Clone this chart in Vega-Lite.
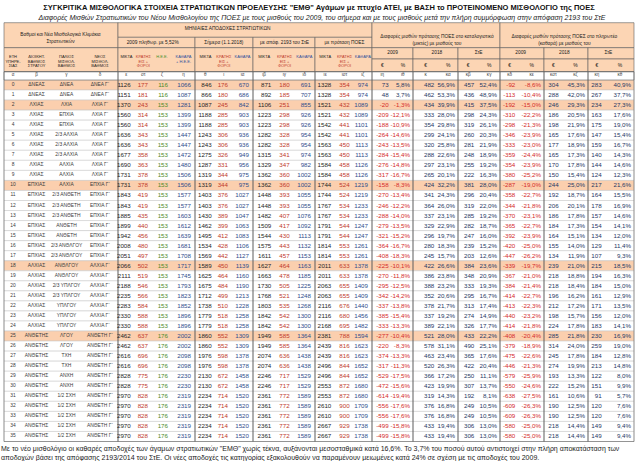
{
"$schema":"https://vega.github.io/schema/vega-lite/v6.json",
"width":630,"height":461,
"autosize":{"type":"none"},
"padding":{"left":4,"right":6,"top":0,"bottom":0},
"background":"white",
"config":{"view":{"stroke":null},"axis":{"disable":true},"legend":{"disable":true},
"locale":{"number":{"decimal":",","thousands":".","grouping":[3],"currency":[""," €"],"minus":"-"}}},
"resolve":{"scale":{"x":"independent","y":"independent","color":"independent","fill":"independent"}},
"datasets":{
"rows":[
{"α":0,"β":"ΔΝΕΑΣ","γ":"ΔΝΕΑ","δ":"ΔΝΕΑ Γ΄","ε":1126,"στ":177,"ζ":116,"η":1066,"θ":846,"ι":176,"ια":670,"ιβ":871,"ιγ":180,"ιδ":691,"ιε":1328,"ιστ":354,"ιζ":974,"ιη":73,"ιθ":0.058,"κ":482,"κα":0.569,"κβ":457,"κγ":0.524,"κδ":-92,"κε":-0.086,"κστ":304,"κζ":0.453,"κη":283,"κθ":0.409},
{"α":1,"β":"ΔΝΕΑΣ","γ":"ΔΝΕΑ","δ":"ΔΝΕΑ Γ΄","ε":1151,"στ":181,"ζ":116,"η":1087,"θ":866,"ι":180,"ια":686,"ιβ":892,"ιγ":185,"ιδ":707,"ιε":1328,"ιστ":354,"ιζ":974,"ιη":48,"ιθ":0.037,"κ":462,"κα":0.533,"κβ":436,"κγ":0.489,"κδ":-113,"κε":-0.104,"κστ":288,"κζ":0.420,"κη":267,"κθ":0.377},
{"α":2,"β":"ΛΧΙΑΣ","γ":"ΛΧΙΑ","δ":"ΛΧΙΑ Γ΄","ε":1370,"στ":243,"ζ":153,"η":1281,"θ":1087,"ι":245,"ια":842,"ιβ":1106,"ιγ":251,"ιδ":855,"ιε":1521,"ιστ":432,"ιζ":1089,"ιη":-20,"ιθ":-0.013,"κ":434,"κα":0.399,"κβ":415,"κγ":0.375,"κδ":-192,"κε":-0.150,"κστ":246,"κζ":0.293,"κη":234,"κθ":0.273},
{"α":3,"β":"ΛΧΙΑΣ","γ":"ΕΠΧΙΑ","δ":"ΛΧΙΑ Γ΄","ε":1560,"στ":314,"ζ":153,"η":1399,"θ":1188,"ι":285,"ια":903,"ιβ":1223,"ιγ":298,"ιδ":926,"ιε":1521,"ιστ":432,"ιζ":1089,"ιη":-209,"ιθ":-0.121,"κ":333,"κα":0.280,"κβ":298,"κγ":0.243,"κδ":-310,"κε":-0.222,"κστ":186,"κζ":0.205,"κη":163,"κθ":0.176},
{"α":4,"β":"ΛΧΙΑΣ","γ":"ΕΠΧΙΑ","δ":"ΛΧΙΑ Γ΄","ε":1560,"στ":314,"ζ":153,"η":1399,"θ":1188,"ι":285,"ια":903,"ιβ":1223,"ιγ":298,"ιδ":926,"ιε":1542,"ιστ":441,"ιζ":1101,"ιη":-188,"ιθ":-0.109,"κ":354,"κα":0.298,"κβ":319,"κγ":0.261,"κδ":-298,"κε":-0.213,"κστ":198,"κζ":0.219,"κη":175,"κθ":0.190},
{"α":5,"β":"ΛΧΙΑΣ","γ":"2/3 ΑΛΧΙΑ","δ":"ΛΧΙΑ Γ΄","ε":1636,"στ":343,"ζ":153,"η":1447,"θ":1243,"ι":306,"ια":936,"ιβ":1282,"ιγ":328,"ιδ":954,"ιε":1542,"ιστ":441,"ιζ":1101,"ιη":-264,"ιθ":-0.146,"κ":299,"κα":0.241,"κβ":260,"κγ":0.203,"κδ":-346,"κε":-0.239,"κστ":165,"κζ":0.176,"κη":147,"κθ":0.154},
{"α":6,"β":"ΛΧΙΑΣ","γ":"2/3 ΑΛΧΙΑ","δ":"ΛΧΙΑ Γ΄","ε":1636,"στ":343,"ζ":153,"η":1447,"θ":1243,"ι":306,"ια":936,"ιβ":1282,"ιγ":328,"ιδ":954,"ιε":1563,"ιστ":450,"ιζ":1113,"ιη":-243,"ιθ":-0.135,"κ":320,"κα":0.258,"κβ":281,"κγ":0.219,"κδ":-333,"κε":-0.230,"κστ":177,"κζ":0.189,"κη":159,"κθ":0.167},
{"α":7,"β":"ΛΧΙΑΣ","γ":"2/3 ΑΛΧΙΑ","δ":"ΛΧΙΑ Γ΄","ε":1677,"στ":358,"ζ":153,"η":1472,"θ":1275,"ι":326,"ια":949,"ιβ":1315,"ιγ":341,"ιδ":974,"ιε":1563,"ιστ":450,"ιζ":1113,"ιη":-284,"ιθ":-0.154,"κ":288,"κα":0.226,"κβ":248,"κγ":0.189,"κδ":-359,"κε":-0.244,"κστ":165,"κζ":0.173,"κη":140,"κθ":0.143},
{"α":8,"β":"ΛΧΙΑΣ","γ":"ΑΛΧΙΑ","δ":"ΛΧΙΑ Γ΄","ε":1690,"στ":363,"ζ":153,"η":1480,"θ":1287,"ι":331,"ια":956,"ιβ":1329,"ιγ":347,"ιδ":982,"ιε":1584,"ιστ":458,"ιζ":1126,"ιη":-276,"ιθ":-0.148,"κ":297,"κα":0.231,"κβ":255,"κγ":0.192,"κδ":-354,"κε":-0.239,"κστ":170,"κζ":0.178,"κη":144,"κθ":0.146},
{"α":9,"β":"ΛΧΙΑΣ","γ":"ΑΛΧΙΑ","δ":"ΛΧΙΑ Γ΄","ε":1731,"στ":378,"ζ":153,"η":1506,"θ":1319,"ι":344,"ια":975,"ιβ":1362,"ιγ":360,"ιδ":1002,"ιε":1584,"ιστ":458,"ιζ":1126,"ιη":-317,"ιθ":-0.167,"κ":265,"κα":0.201,"κβ":222,"κγ":0.163,"κδ":-380,"κε":-0.252,"κστ":150,"κζ":0.154,"κη":124,"κθ":0.123},
{"α":10,"β":"ΕΠΧΙΑΣ","γ":"ΑΛΧΙΑ","δ":"ΕΠΧΙΑ Γ΄","ε":1731,"στ":378,"ζ":153,"η":1506,"θ":1319,"ι":344,"ια":975,"ιβ":1362,"ιγ":360,"ιδ":1002,"ιε":1744,"ιστ":524,"ιζ":1219,"ιη":-158,"ιθ":-0.083,"κ":424,"κα":0.322,"κβ":381,"κγ":0.280,"κδ":-287,"κε":-0.190,"κστ":244,"κζ":0.250,"κη":217,"κθ":0.216},
{"α":11,"β":"ΕΠΧΙΑΣ","γ":"2/3 ΑΝΘΕΤΗ","δ":"ΕΠΧΙΑ Γ΄","ε":1843,"στ":419,"ζ":153,"η":1577,"θ":1403,"ι":376,"ια":1027,"ιβ":1448,"ιγ":393,"ιδ":1055,"ιε":1744,"ιστ":524,"ιζ":1219,"ιη":-270,"ιθ":-0.134,"κ":341,"κα":0.243,"κβ":296,"κγ":0.204,"κδ":-358,"κε":-0.227,"κστ":192,"κζ":0.187,"κη":164,"κθ":0.155},
{"α":12,"β":"ΕΠΧΙΑΣ","γ":"2/3 ΑΝΘΕΤΗ","δ":"ΕΠΧΙΑ Γ΄","ε":1843,"στ":419,"ζ":153,"η":1577,"θ":1403,"ι":376,"ια":1027,"ιβ":1448,"ιγ":393,"ιδ":1055,"ιε":1767,"ιστ":534,"ιζ":1233,"ιη":-246,"ιθ":-0.122,"κ":364,"κα":0.260,"κβ":319,"κγ":0.220,"κδ":-344,"κε":-0.218,"κστ":206,"κζ":0.201,"κη":178,"κθ":0.169},
{"α":13,"β":"ΕΠΧΙΑΣ","γ":"2/3 ΑΝΘΕΤΗ","δ":"ΕΠΧΙΑ Γ΄","ε":1885,"στ":435,"ζ":153,"η":1603,"θ":1430,"ι":389,"ια":1047,"ιβ":1482,"ιγ":407,"ιδ":1076,"ιε":1767,"ιστ":534,"ιζ":1233,"ιη":-288,"ιθ":-0.140,"κ":337,"κα":0.231,"κβ":285,"κγ":0.192,"κδ":-370,"κε":-0.231,"κστ":186,"κζ":0.178,"κη":157,"κθ":0.146},
{"α":14,"β":"ΕΠΧΙΑΣ","γ":"ΑΝΘΕΤΗ","δ":"ΕΠΧΙΑ Γ΄","ε":1899,"στ":440,"ζ":153,"η":1612,"θ":1462,"ι":399,"ια":1063,"ιβ":1509,"ιγ":417,"ιδ":1092,"ιε":1791,"ιστ":544,"ιζ":1247,"ιη":-279,"ιθ":-0.135,"κ":329,"κα":0.229,"κβ":282,"κγ":0.187,"κδ":-365,"κε":-0.227,"κστ":184,"κζ":0.173,"κη":154,"κθ":0.141},
{"α":15,"β":"ΕΠΧΙΑΣ","γ":"ΑΝΘΕΤΗ","δ":"ΕΠΧΙΑ Γ΄","ε":1942,"στ":456,"ζ":153,"η":1639,"θ":1495,"ι":412,"ια":1083,"ιβ":1544,"ιγ":430,"ιδ":1113,"ιε":1791,"ιστ":544,"ιζ":1247,"ιη":-321,"ιθ":-0.152,"κ":296,"κα":0.197,"κβ":247,"κγ":0.160,"κδ":-392,"κε":-0.239,"κστ":164,"κζ":0.151,"κη":134,"κθ":0.120},
{"α":16,"β":"ΕΠΧΙΑΣ","γ":"2/3 ΑΝΘΛΓΟΥ","δ":"ΕΠΧΙΑ Γ΄","ε":2008,"στ":480,"ζ":153,"η":1681,"θ":1534,"ι":428,"ια":1106,"ιβ":1575,"ιγ":443,"ιδ":1132,"ιε":1814,"ιστ":553,"ιζ":1261,"ιη":-364,"ιθ":-0.167,"κ":280,"κα":0.183,"κβ":239,"κγ":0.152,"κδ":-420,"κε":-0.250,"κστ":155,"κζ":0.140,"κη":129,"κθ":0.114},
{"α":17,"β":"ΕΠΧΙΑΣ","γ":"2/3 ΑΝΘΛΓΟΥ","δ":"ΕΠΧΙΑ Γ΄","ε":2051,"στ":497,"ζ":153,"η":1708,"θ":1569,"ι":442,"ια":1127,"ιβ":1611,"ιγ":457,"ιδ":1153,"ιε":1814,"ιστ":553,"ιζ":1261,"ιη":-408,"ιθ":-0.183,"κ":245,"κα":0.157,"κβ":203,"κγ":0.126,"κδ":-447,"κε":-0.262,"κστ":134,"κζ":0.119,"κη":107,"κθ":0.093},
{"α":18,"β":"ΑΛΧΙΑΣ","γ":"ΑΝΘΛΓΟΥ","δ":"ΑΛΧΙΑ Γ΄","ε":2066,"στ":502,"ζ":153,"η":1717,"θ":1589,"ι":450,"ια":1139,"ιβ":1627,"ιγ":464,"ιδ":1163,"ιε":2011,"ιστ":633,"ιζ":1378,"ιη":-225,"ιθ":-0.101,"κ":422,"κα":0.266,"κβ":384,"κγ":0.236,"κδ":-339,"κε":-0.197,"κστ":239,"κζ":0.210,"κη":215,"κθ":0.185},
{"α":19,"β":"ΑΛΧΙΑΣ","γ":"ΑΝΘΛΓΟΥ","δ":"ΑΛΧΙΑ Γ΄","ε":2111,"στ":519,"ζ":153,"η":1745,"θ":1625,"ι":464,"ια":1160,"ιβ":1663,"ιγ":478,"ιδ":1185,"ιε":2011,"ιστ":633,"ιζ":1378,"ιη":-270,"ιθ":-0.118,"κ":386,"κα":0.238,"κβ":348,"κγ":0.209,"κδ":-367,"κε":-0.210,"κστ":218,"κζ":0.188,"κη":194,"κθ":0.163},
{"α":20,"β":"ΑΛΧΙΑΣ","γ":"2/3 ΥΠΛΓΟΥ","δ":"ΑΛΧΙΑ Γ΄","ε":2188,"στ":546,"ζ":153,"η":1793,"θ":1675,"ι":484,"ια":1190,"ιβ":1730,"ιγ":505,"ιδ":1225,"ιε":2063,"ιστ":655,"ιζ":1409,"ιη":-295,"ιθ":-0.125,"κ":388,"κα":0.232,"κβ":333,"κγ":0.193,"κδ":-384,"κε":-0.214,"κστ":218,"κζ":0.184,"κη":184,"κθ":0.150},
{"α":21,"β":"ΑΛΧΙΑΣ","γ":"2/3 ΥΠΛΓΟΥ","δ":"ΑΛΧΙΑ Γ΄","ε":2235,"στ":566,"ζ":153,"η":1823,"θ":1712,"ι":499,"ια":1213,"ιβ":1768,"ιγ":521,"ιδ":1248,"ιε":2063,"ιστ":655,"ιζ":1409,"ιη":-342,"ιθ":-0.142,"κ":352,"κα":0.206,"κβ":295,"κγ":0.167,"κδ":-414,"κε":-0.227,"κστ":196,"κζ":0.162,"κη":161,"κθ":0.129},
{"α":22,"β":"ΑΛΧΙΑΣ","γ":"ΥΠΛΓΟΥ","δ":"ΑΛΧΙΑ Γ΄","ε":2283,"στ":584,"ζ":153,"η":1852,"θ":1738,"ι":510,"ια":1228,"ιβ":1803,"ιγ":535,"ιδ":1268,"ιε":2116,"ιστ":676,"ιζ":1440,"ιη":-337,"ιθ":-0.138,"κ":378,"κα":0.217,"κβ":313,"κγ":0.174,"κδ":-413,"κε":-0.223,"κστ":212,"κζ":0.172,"κη":171,"κθ":0.135},
{"α":23,"β":"ΑΛΧΙΑΣ","γ":"ΥΠΛΓΟΥ","δ":"ΑΛΧΙΑ Γ΄","ε":2330,"στ":588,"ζ":153,"η":1896,"θ":1779,"ι":518,"ια":1258,"ιβ":1842,"ιγ":542,"ιδ":1300,"ιε":2116,"ιστ":680,"ιζ":1456,"ιη":-385,"ιθ":-0.154,"κ":337,"κα":0.192,"κβ":274,"κγ":0.149,"κδ":-440,"κε":-0.232,"κστ":198,"κζ":0.157,"κη":156,"κθ":0.120},
{"α":24,"β":"ΑΛΧΙΑΣ","γ":"ΥΠΛΓΟΥ","δ":"ΑΛΧΙΑ Γ΄","ε":2330,"στ":588,"ζ":153,"η":1896,"θ":1779,"ι":518,"ια":1258,"ιβ":1842,"ιγ":542,"ιδ":1300,"ιε":2168,"ιστ":695,"ιζ":1482,"ιη":-333,"ιθ":-0.133,"κ":389,"κα":0.221,"κβ":326,"κγ":0.177,"κδ":-414,"κε":-0.218,"κστ":224,"κζ":0.178,"κη":183,"κθ":0.141},
{"α":25,"β":"ΑΝΘΕΤΗΣ","γ":"ΛΓΟΥ","δ":"ΑΝΘΕΤΗ Γ΄","ε":2462,"στ":637,"ζ":176,"η":2002,"θ":1860,"ι":552,"ια":1309,"ιβ":1949,"ιγ":585,"ιδ":1364,"ιε":2381,"ιστ":788,"ιζ":1594,"ιη":-277,"ιθ":-0.104,"κ":521,"κα":0.280,"κβ":433,"κγ":0.222,"κδ":-408,"κε":-0.204,"κστ":285,"κζ":0.218,"κη":230,"κθ":0.169},
{"α":26,"β":"ΑΝΘΕΤΗΣ","γ":"ΛΓΟΥ","δ":"ΑΝΘΕΤΗ Γ΄","ε":2462,"στ":637,"ζ":176,"η":2002,"θ":1860,"ι":552,"ια":1309,"ιβ":1949,"ιγ":585,"ιδ":1364,"ιε":2439,"ιστ":816,"ιζ":1623,"ιη":-220,"ιθ":-0.083,"κ":578,"κα":0.311,"κβ":490,"κγ":0.251,"κδ":-379,"κε":-0.189,"κστ":314,"κζ":0.240,"κη":259,"κθ":0.190},
{"α":27,"β":"ΑΝΘΕΤΗΣ","γ":"ΤΧΗ","δ":"ΑΝΘΕΤΗ Γ΄","ε":2616,"στ":696,"ζ":176,"η":2098,"θ":1976,"ι":598,"ια":1378,"ιβ":2074,"ιγ":636,"ιδ":1438,"ιε":2439,"ιστ":816,"ιζ":1623,"ιη":-374,"ιθ":-0.133,"κ":463,"κα":0.234,"κβ":365,"κγ":0.176,"κδ":-475,"κε":-0.226,"κστ":245,"κζ":0.178,"κη":184,"κθ":0.128},
{"α":28,"β":"ΑΝΘΕΤΗΣ","γ":"ΤΧΗ","δ":"ΑΝΘΕΤΗ Γ΄","ε":2616,"στ":696,"ζ":176,"η":2098,"θ":1976,"ι":598,"ια":1378,"ιβ":2074,"ιγ":636,"ιδ":1438,"ιε":2496,"ιστ":844,"ιζ":1652,"ιη":-317,"ιθ":-0.113,"κ":520,"κα":0.263,"κβ":422,"κγ":0.204,"κδ":-446,"κε":-0.213,"κστ":274,"κζ":0.199,"κη":213,"κθ":0.148},
{"α":29,"β":"ΑΝΘΕΤΗΣ","γ":"ΑΝΧΗ","δ":"ΑΝΘΕΤΗ Γ΄","ε":2828,"στ":775,"ζ":176,"η":2230,"θ":2130,"ι":672,"ια":1458,"ιβ":2246,"ιγ":717,"ιδ":1529,"ιε":2496,"ιστ":844,"ιζ":1652,"ιη":-529,"ιθ":-0.175,"κ":366,"κα":0.172,"κβ":250,"κγ":0.111,"κδ":-579,"κε":-0.259,"κστ":193,"κζ":0.133,"κη":122,"κθ":0.080},
{"α":30,"β":"ΑΝΘΕΤΗΣ","γ":"ΑΝΧΗ","δ":"ΑΝΘΕΤΗ Γ΄","ε":2828,"στ":775,"ζ":176,"η":2230,"θ":2130,"ι":672,"ια":1458,"ιβ":2246,"ιγ":717,"ιδ":1529,"ιε":2553,"ιστ":872,"ιζ":1680,"ιη":-472,"ιθ":-0.156,"κ":423,"κα":0.199,"κβ":307,"κγ":0.137,"κδ":-550,"κε":-0.246,"κστ":222,"κζ":0.152,"κη":151,"κθ":0.099},
{"α":31,"β":"ΑΝΘΕΤΗΣ","γ":"1/2 ΣΧΗ","δ":"ΑΝΘΕΤΗ Γ΄","ε":2970,"στ":828,"ζ":176,"η":2319,"θ":2234,"ι":714,"ια":1520,"ιβ":2361,"ιγ":772,"ιδ":1589,"ιε":2553,"ιστ":872,"ιζ":1680,"ιη":-614,"ιθ":-0.194,"κ":319,"κα":0.143,"κβ":192,"κγ":0.081,"κδ":-638,"κε":-0.275,"κστ":161,"κζ":0.106,"κη":91,"κθ":0.057},
{"α":32,"β":"ΑΝΘΕΤΗΣ","γ":"1/2 ΣΧΗ","δ":"ΑΝΘΕΤΗ Γ΄","ε":2970,"στ":828,"ζ":176,"η":2319,"θ":2234,"ι":714,"ια":1520,"ιβ":2361,"ιγ":772,"ιδ":1589,"ιε":2610,"ιστ":900,"ιζ":1709,"ιη":-556,"ιθ":-0.176,"κ":376,"κα":0.168,"κβ":249,"κγ":0.105,"κδ":-609,"κε":-0.263,"κστ":190,"κζ":0.125,"κη":120,"κθ":0.076},
{"α":33,"β":"ΑΝΘΕΤΗΣ","γ":"1/2 ΣΧΗ","δ":"ΑΝΘΕΤΗ Γ΄","ε":2970,"στ":828,"ζ":176,"η":2319,"θ":2234,"ι":714,"ια":1520,"ιβ":2361,"ιγ":772,"ιδ":1589,"ιε":2610,"ιστ":900,"ιζ":1709,"ιη":-556,"ιθ":-0.176,"κ":376,"κα":0.168,"κβ":249,"κγ":0.105,"κδ":-609,"κε":-0.263,"κστ":190,"κζ":0.125,"κη":120,"κθ":0.076},
{"α":34,"β":"ΑΝΘΕΤΗΣ","γ":"1/2 ΣΧΗ","δ":"ΑΝΘΕΤΗ Γ΄","ε":2970,"στ":828,"ζ":176,"η":2319,"θ":2234,"ι":714,"ια":1520,"ιβ":2361,"ιγ":772,"ιδ":1589,"ιε":2667,"ιστ":929,"ιζ":1738,"ιη":-499,"ιθ":-0.158,"κ":433,"κα":0.194,"κβ":306,"κγ":0.130,"κδ":-580,"κε":-0.250,"κστ":218,"κζ":0.144,"κη":149,"κθ":0.094},
{"α":35,"β":"ΑΝΘΕΤΗΣ","γ":"1/2 ΣΧΗ","δ":"ΑΝΘΕΤΗ Γ΄","ε":2970,"στ":828,"ζ":176,"η":2319,"θ":2234,"ι":714,"ια":1520,"ιβ":2361,"ιγ":772,"ιδ":1589,"ιε":2667,"ιστ":929,"ιζ":1738,"ιη":-499,"ιθ":-0.158,"κ":433,"κα":0.194,"κβ":306,"κγ":0.130,"κδ":-580,"κε":-0.250,"κστ":218,"κζ":0.144,"κη":149,"κθ":0.094}
],
"cols":[
{"col":"α","n":1,"kind":"idx","label":"ΕΤΗ\nΥΠΗΡΕ-\nΣΙΑΣ"},
{"col":"β","n":2,"kind":"text","label":"ΔΙΟΙΚΗΤ.\nΒΑΘΜΟΣ\nΣΤΡΑΤΟΥ"},
{"col":"γ","n":3,"kind":"text","label":"ΠΑΛΙΟΣ\nΜΙΣΘΟΛ.\nΒΑΘΜΟΣ"},
{"col":"δ","n":4,"kind":"text","label":"ΝΕΟΣ\nΜΙΣΘΟΛ.\nΒΑΘΜΟΣ"},
{"col":"ε","n":5,"kind":"gross","label":"ΜΙΚΤΑ"},
{"col":"στ","n":6,"kind":"deduct","label":"ΚΡΑΤΗΣ\nΕΙΣ +\nΦΟΡΟΙ"},
{"col":"ζ","n":7,"kind":"hee","label":"Η.Ε.Ε."},
{"col":"η","n":8,"kind":"net","label":"ΚΑΘΑΡΑ\n+ Η.Ε.Ε."},
{"col":"θ","n":9,"kind":"gross","label":"ΜΙΚΤΑ"},
{"col":"ι","n":10,"kind":"deduct","label":"ΚΡΑΤΗΣ\nΕΙΣ +\nΦΟΡΟΙ"},
{"col":"ια","n":11,"kind":"net","label":"ΚΑΘΑΡΑ"},
{"col":"ιβ","n":12,"kind":"gross","label":"ΜΙΚΤΑ"},
{"col":"ιγ","n":13,"kind":"deduct","label":"ΚΡΑΤΗΣ\nΕΙΣ +\nΦΟΡΟΙ"},
{"col":"ιδ","n":14,"kind":"net","label":"ΚΑΘΑΡΑ"},
{"col":"ιε","n":15,"kind":"gross","label":"ΜΙΚΤΑ"},
{"col":"ιστ","n":16,"kind":"deduct","label":"ΚΡΑΤΗΣ\nΕΙΣ +\nΦΟΡΟΙ"},
{"col":"ιζ","n":17,"kind":"net","label":"ΚΑΘΑΡΑ"},
{"col":"ιη","n":18,"kind":"diff","label":"€"},
{"col":"ιθ","n":19,"kind":"pct","label":"%"},
{"col":"κ","n":20,"kind":"diff","label":"€"},
{"col":"κα","n":21,"kind":"pct","label":"%"},
{"col":"κβ","n":22,"kind":"diff","label":"€"},
{"col":"κγ","n":23,"kind":"pct","label":"%"},
{"col":"κδ","n":24,"kind":"diff","label":"€"},
{"col":"κε","n":25,"kind":"pct","label":"%"},
{"col":"κστ","n":26,"kind":"diff","label":"€"},
{"col":"κζ","n":27,"kind":"pct","label":"%"},
{"col":"κη","n":28,"kind":"diff","label":"€"},
{"col":"κθ","n":29,"kind":"pct","label":"%"}
],
"cells":[
{"part":"head","b0":0,"b1":4,"r0":0,"r1":2,"text":"Βαθμοί και Νέα Μισθολογικά Κλιμάκια\nΣτρατιωτικών","xm":2.8,"ym":0.85},
{"part":"head","b0":0,"b1":4,"r0":2,"r1":4},
{"part":"head","b0":4,"b1":17,"r0":0,"r1":1,"text":"ΜΗΝΙΑΙΕΣ  ΑΠΟΔΟΧΕΣ  ΣΤΡΑΤΙΩΤΙΚΩΝ","xm":10.2,"ym":0.45},
{"part":"head","b0":4,"b1":8,"r0":1,"r1":2,"text":"2009 πληθωρ. με      5,52%","xm":6.5,"ym":1.5},
{"part":"head","b0":8,"b1":11,"r0":1,"r1":2,"text":"Σήμερα (1.1.2018)","xm":10,"ym":1.5},
{"part":"head","b0":11,"b1":14,"r0":1,"r1":2,"text":"με απόφ. 2193 του ΣτΕ","xm":13,"ym":1.5},
{"part":"head","b0":14,"b1":17,"r0":1,"r1":2,"text":"με πρόταση ΠΟΕΣ","xm":16,"ym":1.5},
{"part":"head","b0":4,"b1":8,"r0":2,"r1":4},
{"part":"head","b0":8,"b1":11,"r0":2,"r1":4},
{"part":"head","b0":11,"b1":14,"r0":2,"r1":4},
{"part":"head","b0":14,"b1":17,"r0":2,"r1":4},
{"part":"head","b0":17,"b1":23,"r0":0,"r1":2,"text":"Διαφορές μισθών πρότασης ΠΟΕΣ στο καταλογιστικό\n(μικτές) με μισθούς του","xm":20.5,"ym":1},
{"part":"head","b0":17,"b1":19,"r0":2,"r1":3,"text":"2009","xm":18.5,"ym":2.5},
{"part":"head","b0":19,"b1":21,"r0":2,"r1":3,"text":"2018","xm":20.5,"ym":2.5},
{"part":"head","b0":21,"b1":23,"r0":2,"r1":3,"text":"ΣτΕ","xm":22.5,"ym":2.5},
{"part":"head","b0":17,"b1":19,"r0":3,"r1":4},
{"part":"head","b0":19,"b1":21,"r0":3,"r1":4},
{"part":"head","b0":21,"b1":23,"r0":3,"r1":4},
{"part":"head","b0":23,"b1":29,"r0":0,"r1":2,"text":"Διαφορές μισθών πρότασης ΠΟΕΣ στο πληρωτέο\n(καθαρά) με μισθούς του","xm":26.5,"ym":1},
{"part":"head","b0":23,"b1":25,"r0":2,"r1":3,"text":"2009","xm":24.5,"ym":2.5},
{"part":"head","b0":25,"b1":27,"r0":2,"r1":3,"text":"2018","xm":26.5,"ym":2.5},
{"part":"head","b0":27,"b1":29,"r0":2,"r1":3,"text":"ΣτΕ","xm":28.5,"ym":2.5},
{"part":"head","b0":23,"b1":25,"r0":3,"r1":4},
{"part":"head","b0":25,"b1":27,"r0":3,"r1":4},
{"part":"head","b0":27,"b1":29,"r0":3,"r1":4},
{"part":"letters","b0":0,"b1":29,"r0":4,"r1":5},
{"part":"body","b0":0,"b1":4,"r0":4,"r1":6},
{"part":"body","b0":4,"b1":8,"r0":4,"r1":6},
{"part":"body","b0":8,"b1":11,"r0":4,"r1":6},
{"part":"body","b0":11,"b1":14,"r0":4,"r1":6},
{"part":"body","b0":14,"b1":17,"r0":4,"r1":6},
{"part":"body","b0":17,"b1":19,"r0":4,"r1":6},
{"part":"body","b0":19,"b1":21,"r0":4,"r1":6},
{"part":"body","b0":21,"b1":23,"r0":4,"r1":6},
{"part":"body","b0":23,"b1":25,"r0":4,"r1":6},
{"part":"body","b0":25,"b1":27,"r0":4,"r1":6},
{"part":"body","b0":27,"b1":29,"r0":4,"r1":6}
],
"notes":[
{"part":"title","text":"ΣΥΓΚΡΙΤΙΚΑ ΜΙΣΘΟΛΟΓΙΚΑ ΣΤΟΙΧΕΙΑ ΣΤΡΑΤΙΩΤΙΚΩΝ ΠΡΟΕΛΕΥΣΗΣ \"ΕΜΘ\" Αγάμων με πτυχίο ΑΤΕΙ, με ΒΑΣΗ το ΠΡΟΤΕΙΝΟΜΕΝΟ ΜΙΣΘΟΛΟΓΙΟ της ΠΟΕΣ"},
{"part":"subtitle","text":"Διαφορές Μισθών Στρατιωτικών του Νέου Μισθολογίου της ΠΟΕΣ με τους μισθούς του 2009, του σήμερα και με τους μισθούς μετά την πλήρη συμμόρφωση στην απόφαση 2193 του ΣτΕ"},
{"part":"f1","text":"Με το νέο μισθολόγιο οι καθαρές αποδοχές των άγαμων στρατιωτικών \"ΕΜΘ\" χωρίς τέκνα, αυξάνονται μεσοσταθμικά κατά 16,6%.  Το 3,7% του ποσού αυτού αντιστοιχεί στην πλήρη αποκατάσταση των"},
{"part":"f2","text":"αποδοχών βάσει της απόφασης 2193/2014 του ΣτΕ.  Οι νέες αποδοχές τις κατηγορίας εξακολουθούν να παραμένουν μειωμένες κατά 24% σε σχέση με τις αποδοχές του 2009."}
]
},
"layer":[
{"data":{"name":"rows"},
 "transform":[{"window":[{"op":"row_number","as":"rank"}],"groupby":["β"],"sort":[{"field":"α","order":"ascending"}]}],
 "mark":{"type":"rect","stroke":"#c4c4c4","strokeWidth":0.5},
 "encoding":{
  "y":{"field":"α","type":"ordinal","scale":{"domain":[0,1,2,3,4,5,6,7,8,9,10,11,12,13,14,15,16,17,18,19,20,21,22,23,24,25,26,27,28,29,30,31,32,33,34,35],"range":[80,441.5],"paddingInner":0,"paddingOuter":0}},
  "fill":{"condition":{"test":"datum.rank === 1","value":"#fbcfae"},"value":"#ffffff"}}},
{"data":{"name":"cells"},
 "mark":{"type":"rect","stroke":"#5f5f5f","strokeWidth":0.6},
 "encoding":{
  "x":{"field":"b0","type":"quantitative","scale":{"domain":[0,1,2,3,4,5,6,7,8,9,10,11,12,13,14,15,16,17,18,19,20,21,22,23,24,25,26,27,28,29],"range":[0,18,47,78,114,130.7,148,168,191,211.7,228,249,271.3,289.7,311,331.3,349.7,368,388.7,409,434.3,454,474.3,496,515.3,540,558.7,584,601.7,630],"nice":false,"zero":false}},
  "x2":{"field":"b1"},
  "y":{"field":"r0","type":"quantitative","scale":{"domain":[0,1,2,3,4,5,6],"range":[22.7,37.3,47.7,59,71.7,80,441.5],"nice":false,"zero":false}},
  "y2":{"field":"r1"},
  "fill":{"field":"part","type":"nominal","scale":{"domain":["head","letters","body"],"range":["#fcd5b4","#ffffff","transparent"]}}}},
{"data":{"name":"cells"},
 "transform":[{"filter":"isValid(datum.text)"}],
 "mark":{"type":"text","font":"Liberation Sans Narrow, Arial Narrow, Liberation Sans, Arial, sans-serif","fontSize":4.8,"lineBreak":"\n","lineHeight":7,"color":"#1a1a1a","baseline":"middle"},
 "encoding":{
  "x":{"field":"xm","type":"quantitative","scale":{"domain":[1,2,3,4,5,6,7,8,9,10,11,12,13,14,15,16,17,18,19,20,21,22,23,24,25,26,27,28,29],"range":[9,32.5,62.5,96,122.35,139.35,158,179.5,201.35,219.85,238.5,260.15,280.5,300.35,321.15,340.5,358.85,378.35,398.85,421.65,444.15,464.15,485.15,505.65,527.65,549.35,571.35,592.85,615.85],"nice":false,"zero":false}},
  "y":{"field":"ym","type":"quantitative","scale":{"domain":[0,1,2,3,4,5,6],"range":[22.7,37.3,47.7,59,71.7,80,441.5],"nice":false,"zero":false}},
  "text":{"field":"text"}}},
{"data":{"name":"cols"},
 "transform":[{"filter":"datum.kind !== 'diff' && datum.kind !== 'pct'"}],
 "mark":{"type":"text","font":"Liberation Sans Narrow, Arial Narrow, Liberation Sans, Arial, sans-serif","fontSize":4,"lineBreak":"\n","lineHeight":4.4,"baseline":"middle"},
 "encoding":{
  "x":{"field":"n","type":"quantitative","scale":{"domain":[1,2,3,4,5,6,7,8,9,10,11,12,13,14,15,16,17,18,19,20,21,22,23,24,25,26,27,28,29],"range":[9,32.5,62.5,96,122.35,139.35,158,179.5,201.35,219.85,238.5,260.15,280.5,300.35,321.15,340.5,358.85,378.35,398.85,421.65,444.15,464.15,485.15,505.65,527.65,549.35,571.35,592.85,615.85],"nice":false,"zero":false}},
  "y":{"datum":2.85,"type":"quantitative","scale":{"domain":[0,1,2,3,4,5,6],"range":[22.7,37.3,47.7,59,71.7,80,441.5],"nice":false,"zero":false}},
  "text":{"field":"label"},
  "color":{"field":"kind","type":"nominal","scale":{"domain":["idx","text","gross","deduct","hee","net"],"range":["#1a1a1a","#1a1a1a","#1a1a1a","#c0392b","#3f8f2a","#2f4e9c"]}}}},
{"data":{"name":"cols"},
 "transform":[{"filter":"datum.kind === 'diff' || datum.kind === 'pct'"}],
 "mark":{"type":"text","font":"Liberation Sans Narrow, Arial Narrow, Liberation Sans, Arial, sans-serif","fontSize":5,"color":"#1a1a1a","baseline":"middle"},
 "encoding":{
  "x":{"field":"n","type":"quantitative","scale":{"domain":[1,2,3,4,5,6,7,8,9,10,11,12,13,14,15,16,17,18,19,20,21,22,23,24,25,26,27,28,29],"range":[9,32.5,62.5,96,122.35,139.35,158,179.5,201.35,219.85,238.5,260.15,280.5,300.35,321.15,340.5,358.85,378.35,398.85,421.65,444.15,464.15,485.15,505.65,527.65,549.35,571.35,592.85,615.85],"nice":false,"zero":false}},
  "y":{"datum":3.5,"type":"quantitative","scale":{"domain":[0,1,2,3,4,5,6],"range":[22.7,37.3,47.7,59,71.7,80,441.5],"nice":false,"zero":false}},
  "text":{"field":"label"}}},
{"data":{"name":"cols"},
 "mark":{"type":"text","font":"Liberation Sans Narrow, Arial Narrow, Liberation Sans, Arial, sans-serif","fontSize":4.6,"color":"#404040","baseline":"middle"},
 "encoding":{
  "x":{"field":"n","type":"quantitative","scale":{"domain":[1,2,3,4,5,6,7,8,9,10,11,12,13,14,15,16,17,18,19,20,21,22,23,24,25,26,27,28,29],"range":[9,32.5,62.5,96,122.35,139.35,158,179.5,201.35,219.85,238.5,260.15,280.5,300.35,321.15,340.5,358.85,378.35,398.85,421.65,444.15,464.15,485.15,505.65,527.65,549.35,571.35,592.85,615.85],"nice":false,"zero":false}},
  "y":{"datum":4.4,"type":"quantitative","scale":{"domain":[0,1,2,3,4,5,6],"range":[22.7,37.3,47.7,59,71.7,80,441.5],"nice":false,"zero":false}},
  "text":{"field":"col"}}},
{"data":{"name":"rows"},
 "transform":[{"fold":["α","β","γ","δ"],"as":["col","val"]},{"lookup":"col","from":{"data":{"name":"cols"},"key":"col","fields":["n","kind"]}}],
 "mark":{"type":"text","font":"Liberation Sans Narrow, Arial Narrow, Liberation Sans, Arial, sans-serif","fontSize":4.9,"color":"#3a3a3a","baseline":"middle"},
 "encoding":{
  "x":{"field":"n","type":"quantitative","scale":{"domain":[1,2,3,4,5,6,7,8,9,10,11,12,13,14,15,16,17,18,19,20,21,22,23,24,25,26,27,28,29],"range":[9,32.5,62.5,96,122.35,139.35,158,179.5,201.35,219.85,238.5,260.15,280.5,300.35,321.15,340.5,358.85,378.35,398.85,421.65,444.15,464.15,485.15,505.65,527.65,549.35,571.35,592.85,615.85],"nice":false,"zero":false}},
  "y":{"field":"α","type":"ordinal","scale":{"domain":[0,1,2,3,4,5,6,7,8,9,10,11,12,13,14,15,16,17,18,19,20,21,22,23,24,25,26,27,28,29,30,31,32,33,34,35],"range":[80,441.5],"paddingInner":0,"paddingOuter":0}},
  "text":{"field":"val","type":"nominal"}}},
{"data":{"name":"rows"},
 "transform":[{"fold":["ε","στ","ζ","η","θ","ι","ια","ιβ","ιγ","ιδ","ιε","ιστ","ιζ","ιη","κ","κβ","κδ","κστ","κη"],"as":["col","val"]},{"lookup":"col","from":{"data":{"name":"cols"},"key":"col","fields":["n","kind"]}}],
 "mark":{"type":"text","font":"Liberation Sans Narrow, Arial Narrow, Liberation Sans, Arial, sans-serif","fontSize":6.2,"align":"right","dx":-4,"baseline":"middle"},
 "encoding":{
  "x":{"field":"n","type":"quantitative","scale":{"domain":[0,1,2,3,4,5,6,7,8,9,10,11,12,13,14,15,16,17,18,19,20,21,22,23,24,25,26,27,28,29],"range":[0,18,47,78,114,130.7,148,168,191,211.7,228,249,271.3,289.7,311,331.3,349.7,368,388.7,409,434.3,454,474.3,496,515.3,540,558.7,584,601.7,630],"nice":false,"zero":false}},
  "y":{"field":"α","type":"ordinal","scale":{"domain":[0,1,2,3,4,5,6,7,8,9,10,11,12,13,14,15,16,17,18,19,20,21,22,23,24,25,26,27,28,29,30,31,32,33,34,35],"range":[80,441.5],"paddingInner":0,"paddingOuter":0}},
  "text":{"field":"val","type":"quantitative","format":"d"},
  "color":{"field":"kind","type":"nominal","scale":{"domain":["gross","deduct","hee","net","diff"],"range":["#262626","#c0392b","#4d8a2a","#2f4e8c","#1f3864"]},"condition":{"test":"datum.val < 0","value":"#d42a2a"}}}},
{"data":{"name":"rows"},
 "transform":[{"fold":["ιθ","κα","κγ","κε","κζ","κθ"],"as":["col","val"]},{"lookup":"col","from":{"data":{"name":"cols"},"key":"col","fields":["n","kind"]}}],
 "mark":{"type":"text","font":"Liberation Sans Narrow, Arial Narrow, Liberation Sans, Arial, sans-serif","fontSize":6.2,"align":"right","dx":-3,"baseline":"middle"},
 "encoding":{
  "x":{"field":"n","type":"quantitative","scale":{"domain":[0,1,2,3,4,5,6,7,8,9,10,11,12,13,14,15,16,17,18,19,20,21,22,23,24,25,26,27,28,29],"range":[0,18,47,78,114,130.7,148,168,191,211.7,228,249,271.3,289.7,311,331.3,349.7,368,388.7,409,434.3,454,474.3,496,515.3,540,558.7,584,601.7,630],"nice":false,"zero":false}},
  "y":{"field":"α","type":"ordinal","scale":{"domain":[0,1,2,3,4,5,6,7,8,9,10,11,12,13,14,15,16,17,18,19,20,21,22,23,24,25,26,27,28,29,30,31,32,33,34,35],"range":[80,441.5],"paddingInner":0,"paddingOuter":0}},
  "text":{"field":"val","type":"quantitative","format":".1%"},
  "color":{"condition":{"test":"datum.val < 0","value":"#d42a2a"},"value":"#1f3864"}}},
{"data":{"name":"notes"},
 "transform":[{"filter":"datum.part === 'title'"}],
 "mark":{"type":"text","font":"Liberation Sans Narrow, Arial Narrow, Liberation Sans, Arial, sans-serif","fontSize":7.5,"fontWeight":"bold","color":"#111111","baseline":"middle"},
 "encoding":{
  "y":{"field":"part","type":"nominal","scale":{"domain":["title","subtitle"],"range":[3.5,22.5]}},
  "text":{"field":"text"}}},
{"data":{"name":"notes"},
 "transform":[{"filter":"datum.part === 'subtitle'"}],
 "mark":{"type":"text","font":"Liberation Sans Narrow, Arial Narrow, Liberation Sans, Arial, sans-serif","fontSize":7,"fontStyle":"italic","color":"#222222","baseline":"middle","dx":3},
 "encoding":{
  "y":{"field":"part","type":"nominal","scale":{"domain":["title","subtitle"],"range":[3.5,22.5]}},
  "text":{"field":"text"}}},
{"data":{"name":"notes"},
 "transform":[{"filter":"datum.part === 'f1' || datum.part === 'f2'"}],
 "mark":{"type":"text","font":"Liberation Sans Narrow, Arial Narrow, Liberation Sans, Arial, sans-serif","fontSize":7,"align":"left","dx":-3,"color":"#1a1a1a","baseline":"middle"},
 "encoding":{
  "x":{"datum":0,"type":"quantitative","scale":{"domain":[0,1,2,3,4,5,6,7,8,9,10,11,12,13,14,15,16,17,18,19,20,21,22,23,24,25,26,27,28,29],"range":[0,18,47,78,114,130.7,148,168,191,211.7,228,249,271.3,289.7,311,331.3,349.7,368,388.7,409,434.3,454,474.3,496,515.3,540,558.7,584,601.7,630],"nice":false,"zero":false}},
  "y":{"field":"part","type":"nominal","scale":{"domain":["f1","f2"],"range":[444,462]}},
  "text":{"field":"text"}}}
]
}
